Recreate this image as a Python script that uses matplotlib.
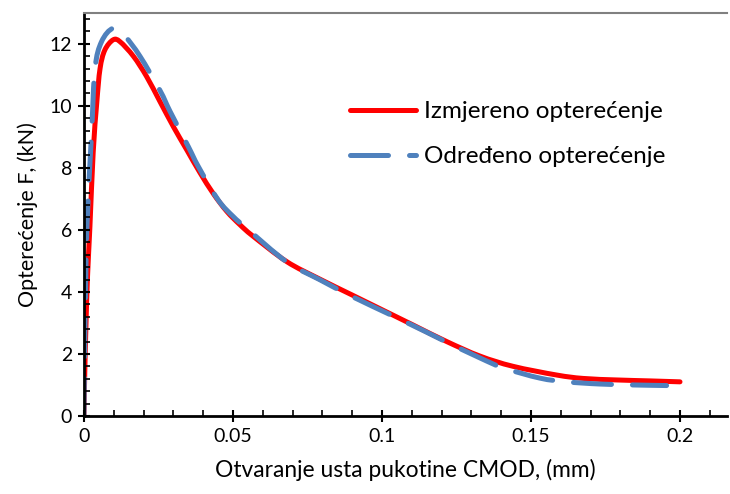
import matplotlib.pyplot as plt
from matplotlib.ticker import MultipleLocator, FixedFormatter, FixedLocator
from matplotlib.path import Path
from matplotlib.patches import PathPatch
from matplotlib.lines import Line2D

plt.rcParams['font.family'] = ['Lato', 'DejaVu Sans']

# Izmjereno opterecenje (mjereno)
cmod_izm = [0.0, 0.0003, 0.0007, 0.0012, 0.002, 0.0031, 0.0043, 0.0054, 0.007, 0.0098,
            0.0121, 0.0166, 0.021, 0.0255, 0.030, 0.0345, 0.0389, 0.0434, 0.0479,
            0.0523, 0.0567, 0.068, 0.079, 0.090, 0.0993, 0.1105, 0.1217, 0.1329,
            0.144, 0.1586, 0.1675, 0.179, 0.19, 0.2]
f_izm = [0.0, 1.5, 3.0, 4.5, 6.1, 8.5, 10.1, 11.2, 11.8, 12.13,
         12.07, 11.6, 10.95, 10.14, 9.33, 8.58, 7.85, 7.17, 6.6,
         6.17, 5.8, 4.98, 4.42, 3.9, 3.46, 2.93, 2.4, 1.93,
         1.6, 1.32, 1.21, 1.16, 1.13, 1.1]

# Odredjeno opterecenje (model)
cmod_odr = [0.0, 0.0002, 0.0005, 0.001, 0.0026, 0.0037, 0.0059, 0.0098, 0.0138,
            0.0188, 0.0255, 0.0289, 0.035, 0.0384, 0.045, 0.0501, 0.0546, 0.068,
            0.079, 0.090, 0.1038, 0.115, 0.1217, 0.1329, 0.1407, 0.153, 0.162,
            0.173, 0.184, 0.1955]
f_odr = [0.0, 1.8, 3.8, 6.1, 9.2, 11.2, 12.07, 12.5, 12.24,
         11.6, 10.5, 9.82, 8.69, 8.04, 6.97, 6.43, 6.05, 4.97,
         4.4, 3.85, 3.22, 2.7, 2.38, 1.87, 1.55, 1.22, 1.10,
         1.03, 1.0, 0.98]

x_ticks = [0, 0.05, 0.1, 0.15, 0.2]
x_tick_labels = ['0', '0.05', '0.1', '0.15', '0.2']
y_ticks = [0, 2, 4, 6, 8, 10, 12]

red = '#FF0000'
blue = '#4F81BD'
dash = (7.6, 4.2)


def smooth_path(xs, ys):
    # glatka linija kao u Excelu (Catmull-Rom -> Bezier)
    pts = list(zip(xs, ys))
    n = len(pts)
    verts = [pts[0]]
    codes = [Path.MOVETO]
    for i in range(n - 1):
        p0 = pts[i - 1] if i > 0 else pts[i]
        p1 = pts[i]
        p2 = pts[i + 1]
        p3 = pts[i + 2] if i + 2 < n else pts[i + 1]
        c1 = (p1[0] + (p2[0] - p0[0]) / 6, p1[1] + (p2[1] - p0[1]) / 6)
        c2 = (p2[0] - (p3[0] - p1[0]) / 6, p2[1] - (p3[1] - p1[1]) / 6)
        verts += [c1, c2, p2]
        codes += [Path.CURVE4] * 3
    return Path(verts, codes)


fig = plt.figure(figsize=(7.3, 4.94), dpi=100)
ax = fig.add_axes([0.115, 0.158, 0.881, 0.816])

p1 = PathPatch(smooth_path(cmod_izm, f_izm), fill=False, edgecolor=red, lw=3.6,
               capstyle='round', joinstyle='round')
ax.add_patch(p1)
p2 = PathPatch(smooth_path(cmod_odr, f_odr), fill=False, edgecolor=blue, lw=3.6,
               linestyle=(0, dash), capstyle='round', joinstyle='round')
ax.add_patch(p2)

ax.set_xlim(0, 0.2158)
ax.set_ylim(0, 13)

ax.xaxis.set_major_locator(FixedLocator(x_ticks))
ax.xaxis.set_major_formatter(FixedFormatter(x_tick_labels))
ax.xaxis.set_minor_locator(MultipleLocator(0.01))
ax.yaxis.set_major_locator(FixedLocator(y_ticks))
ax.yaxis.set_minor_locator(MultipleLocator(0.4))

ax.tick_params(which='major', direction='inout', length=9, width=1.5, labelsize=14, pad=4)
ax.tick_params(which='minor', direction='in', length=4, width=1.2)
ax.tick_params(top=False, right=False, which='both')

ax.spines['right'].set_visible(False)
ax.spines['top'].set_color('#808080')
ax.spines['top'].set_linewidth(1.5)
ax.spines['left'].set_linewidth(2)
ax.spines['bottom'].set_linewidth(2)

ax.set_xlabel('Otvaranje usta pukotine CMOD, (mm)', fontsize=16.4, labelpad=10)
ax.set_ylabel('Opterećenje F, (kN)', fontsize=15.5, labelpad=8)

handles = [Line2D([], [], color=red, lw=3.6, solid_capstyle='round'),
           Line2D([], [], color=blue, lw=3.6, dashes=dash, dash_capstyle='round')]
ax.legend(handles, ['Izmjereno opterećenje', 'Određeno opterećenje'],
          loc='upper left', bbox_to_anchor=(0.38, 0.835), frameon=False,
          fontsize=17.5, handlelength=2.72, handletextpad=0.3, labelspacing=0.98)

plt.savefig('out.png', dpi=100)
